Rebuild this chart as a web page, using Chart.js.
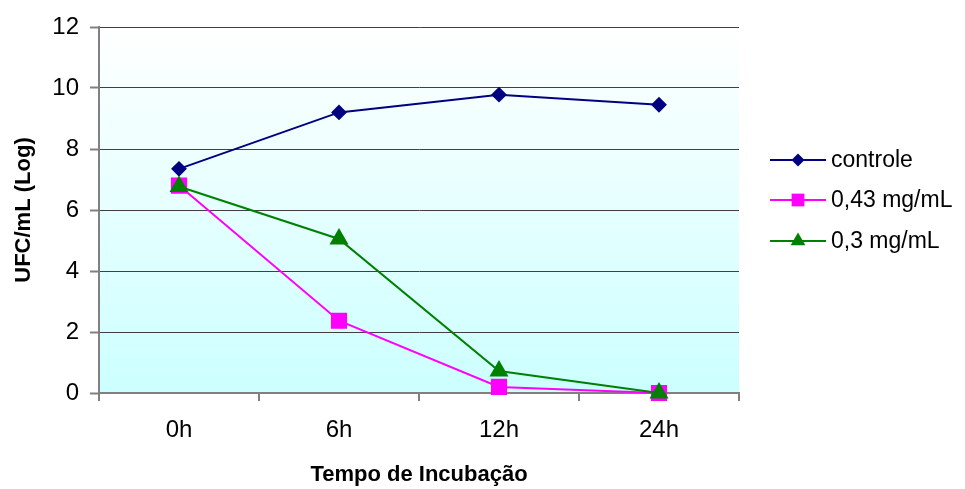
<!DOCTYPE html>
<html>
<head>
<meta charset="utf-8">
<script src="https://cdn.jsdelivr.net/npm/chart.js@4/dist/chart.umd.min.js"></script>
<style>
  html, body { margin: 0; padding: 0; background: #fff; }
  #wrap { width: 965px; height: 489px; }
</style>
</head>
<body>
<div id="wrap"><canvas id="grafico" width="965" height="489"></canvas></div>
<script>
// dados
const tempos = ['0h', '6h', '12h', '24h'];
const controle = [7.35, 9.2, 9.78, 9.45];
const conc043 = [6.8, 2.37, 0.2, 0];
const conc03 = [6.77, 5.05, 0.72, 0];
const nomes = ['controle', '0,43 mg/mL', '0,3 mg/mL'];
const yTicks = [0, 2, 4, 6, 8, 10, 12];

Chart.defaults.font.family = "'Liberation Sans', Arial, sans-serif";
Chart.defaults.color = '#000';

// fundo em degradê da área do gráfico
const fundo = {
  id: 'fundo',
  beforeDraw(chart) {
    const {ctx, chartArea: a} = chart;
    const g = ctx.createLinearGradient(0, a.top, 0, a.bottom);
    g.addColorStop(0, '#ffffff');
    g.addColorStop(1, '#ccffff');
    ctx.save();
    ctx.fillStyle = g;
    ctx.fillRect(a.left, a.top, a.right - a.left, a.bottom - a.top);
    ctx.restore();
  }
};

// legenda com linha + marcador, à direita
const legenda = {
  id: 'legenda',
  afterDraw(chart) {
    const ctx = chart.ctx;
    const x0 = 770, x1 = 826, tx = 831;
    const ys = [160, 200, 241];
    ctx.save();
    chart.data.datasets.forEach((ds, i) => {
      const y = ys[i];
      ctx.strokeStyle = ds.borderColor;
      ctx.lineWidth = 2;
      ctx.beginPath();
      ctx.moveTo(x0, y);
      ctx.lineTo(x1, y);
      ctx.stroke();
      ctx.fillStyle = ds.backgroundColor;
      Chart.helpers.drawPoint(ctx, {
        pointStyle: ds.pointStyle,
        radius: ds.legendRadius,
        rotation: 0,
        borderWidth: 0
      }, (x0 + x1) / 2, y);
      ctx.fillStyle = '#000';
      ctx.font = "23px 'Liberation Sans', Arial, sans-serif";
      ctx.textBaseline = 'middle';
      ctx.textAlign = 'left';
      ctx.fillText(ds.label, tx, y + 1);
    });
    ctx.restore();
  }
};

new Chart(document.getElementById('grafico'), {
  type: 'line',
  data: {
    labels: tempos,
    datasets: [{
      label: nomes[0],
      data: controle,
      borderColor: '#000080',
      backgroundColor: '#000080',
      pointStyle: 'rectRot',
      pointRadius: 6.5,
      legendRadius: 6.5,
      borderWidth: 2,
      clip: false,
      order: 2
    }, {
      label: nomes[1],
      data: conc043,
      borderColor: '#ff00ff',
      backgroundColor: '#ff00ff',
      pointStyle: 'rect',
      pointRadius: 10,
      legendRadius: 9,
      borderWidth: 2,
      clip: false,
      order: 1
    }, {
      label: nomes[2],
      data: conc03,
      borderColor: '#008000',
      backgroundColor: '#008000',
      pointStyle: 'triangle',
      pointRadius: 9,
      legendRadius: 8.5,
      borderWidth: 2,
      clip: false,
      order: 0
    }]
  },
  options: {
    responsive: false,
    animation: false,
    events: [],
    layout: { padding: { top: 27, right: 226, left: 0, bottom: 0 } },
    elements: {
      line: { tension: 0, fill: false },
      point: { borderWidth: 0, hoverRadius: 0 }
    },
    plugins: { legend: { display: false }, tooltip: { enabled: false } },
    scales: {
      x: {
        offset: true,
        afterFit(s) { s.height = 96; },
        grid: { offset: true, drawOnChartArea: false, tickLength: 8, color: '#808080', lineWidth: 2 },
        border: { color: '#808080', width: 2 },
        ticks: { font: { size: 24 }, padding: 15 },
        title: { display: true, text: 'Tempo de Incubação', font: { size: 22, weight: 'bold' }, padding: { top: 0, bottom: 1 } }
      },
      y: {
        min: 0,
        max: 12,
        afterFit(s) { s.width = 99; },
        afterBuildTicks(s) { s.ticks = yTicks.map(v => ({ value: v })); },
        grid: { color: '#404040', lineWidth: 1, tickLength: 9, tickColor: '#808080', tickWidth: 2 },
        border: { color: '#808080', width: 2 },
        ticks: { font: { size: 24 }, padding: 11 },
        title: { display: true, text: 'UFC/mL (Log)', font: { size: 22, weight: 'bold' }, padding: { top: 11, bottom: 0 } }
      }
    }
  },
  plugins: [fundo, legenda]
});
</script>
</body>
</html>
